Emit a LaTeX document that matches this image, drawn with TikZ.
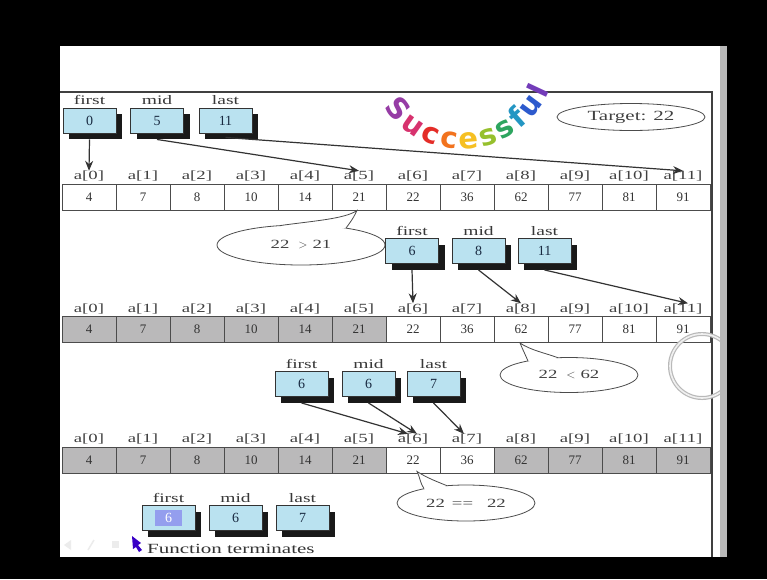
\documentclass[tikz,border=0pt]{standalone}
\usepackage{fontspec}
\setmainfont{Liberation Serif}
\newfontfamily\widefont[FakeStretch=1.5]{Liberation Serif}
\newfontfamily\artfont{DejaVu Sans}
\usetikzlibrary{arrows.meta,shadows,shapes.geometric,positioning,decorations.text}

\definecolor{ptrfill}{RGB}{186,226,240}
\definecolor{ptrink}{RGB}{25,42,65}
\definecolor{cellgray}{RGB}{186,185,186}
\definecolor{pickblue}{RGB}{148,158,238}
\definecolor{waA}{RGB}{150,60,165}
\definecolor{waB}{RGB}{215,50,110}
\definecolor{waC}{RGB}{228,45,40}
\definecolor{waD}{RGB}{242,115,30}
\definecolor{waE}{RGB}{246,192,35}
\definecolor{waF}{RGB}{150,192,45}
\definecolor{waG}{RGB}{45,165,95}
\definecolor{waH}{RGB}{35,150,195}
\definecolor{waI}{RGB}{45,90,205}
\definecolor{waJ}{RGB}{115,60,185}
% colour and face of one letter of the arched word
\newcommand\waface[1]{\color{#1}\artfont\bfseries\fontsize{29}{29}\selectfont}

\begin{document}
\begin{tikzpicture}[x=1pt,y=-1pt,
  cell/.style={draw=black!70, line width=0.9pt, minimum width=54pt, minimum height=26pt,
    inner sep=0pt, font=\fontsize{13}{13}\selectfont, text=black!80},
  idx/.style={inner sep=0pt, font=\widefont\fontsize{12.5}{12.5}\selectfont, text=black!75},
  ptr/.style={draw=black!80, fill=ptrfill, line width=0.9pt, minimum width=53pt,
    minimum height=25pt, inner sep=0pt, font=\fontsize{14}{14}\selectfont, text=ptrink,
    drop shadow={shadow xshift=6pt, shadow yshift=-6pt, fill=black, opacity=0.9}},
  ptrname/.style={inner sep=0pt, font=\widefont\fontsize{13}{13}\selectfont, text=black!78},
  link/.style={draw=black!80, line width=1.2pt, -{Stealth[length=10pt,width=8pt]}},
  bubble/.style={ellipse, draw=black!70, fill=white, line width=0.8pt, inner sep=0pt,
    font=\widefont\fontsize{12.5}{12.5}\selectfont, text=black!75},
  tail/.style={draw=black!70, line width=0.8pt},
]
\useasboundingbox (0,0) rectangle (767,579);
\fill[black] (0,0) rectangle (767,579);
\fill[white] (60,46) rectangle (720,557);

% content frame
\coordinate (fTL) at (60,92);
\coordinate (fTR) at (712,92);
\coordinate (fBR) at (712,557);
\draw[black!75, line width=1.2pt] (fTL) -- (fTR) -- (fBR);

% rainbow word on an arc
\coordinate (wc) at (462,55);
\path[decorate, decoration={text along path, text align={fit to path},
    text={|\waface{waA}|S|\waface{waB}|u|\waface{waC}|c|\waface{waD}|c|\waface{waE}|e%
          |\waface{waF}|s|\waface{waG}|s|\waface{waH}|f|\waface{waI}|u|\waface{waJ}|l}}]
  ([shift={(214:94pt)}]wc) arc[start angle=214, end angle=338, radius=94pt];

\node[bubble, minimum width=148pt, minimum height=27pt, font=\widefont\fontsize{14}{14}\selectfont]
  (target) at (631,117) {Target: 22};

% ---------- pass 1 ----------
\foreach \v [count=\i from 0] in {4,7,8,10,14,21,22,36,62,77,81,91} {
  \node[cell] (r1c\i) at (89+54*\i,197) {\v};
  \node[idx, above=2pt of r1c\i] (r1l\i) {a[\i]};
}
\node[ptr] (b1f) at (89.5,120.5) {0};
\node[ptr] (b1m) at (157,120.5) {5};
\node[ptr] (b1l) at (225.5,120.5) {11};
\node[ptrname, above=2.5pt of b1f] (b1fn) {first};
\node[ptrname, above=2.5pt of b1m] (b1mn) {mid};
\node[ptrname, above=2.5pt of b1l] (b1ln) {last};
\draw[link] ([yshift=-6pt]b1f.south) -- (r1l0.north);
\draw[link] ([yshift=-6pt]b1m.south) -- (r1l5.north);
\draw[link] ([yshift=-4pt]b1l.south) -- (r1l11.north);

\node[bubble, minimum width=168pt, minimum height=40pt] (e1) at (301,245)
  {22\hspace{9pt}$>$\hspace{5pt}21};
\coordinate (t1) at ([xshift=-2pt]r1c5.south);
\coordinate (b1a) at (280,225.6);
\coordinate (b1b) at (346,228);
\coordinate (b1in) at (313,232);
\fill[white] (b1a) .. controls (312,221) and (345,219) .. (t1)
  .. controls (353,219) and (349,224) .. (b1b) -- (b1in) -- cycle;
\draw[tail] (b1a) .. controls (312,221) and (345,219) .. (t1)
  .. controls (353,219) and (349,224) .. (b1b);

% ---------- pass 2 ----------
\foreach \v/\f [count=\i from 0] in {4/cellgray,7/cellgray,8/cellgray,10/cellgray,14/cellgray,
    21/cellgray,22/white,36/white,62/white,77/white,81/white,91/white} {
  \node[cell, fill=\f] (r2c\i) at (89+54*\i,329.5) {\v};
  \node[idx, above=2pt of r2c\i] (r2l\i) {a[\i]};
}
\node[ptr] (b2f) at (412,251) {6};
\node[ptr] (b2m) at (478.5,251) {8};
\node[ptr] (b2l) at (544.5,251) {11};
\node[ptrname, above=2.5pt of b2f] (b2fn) {first};
\node[ptrname, above=2.5pt of b2m] (b2mn) {mid};
\node[ptrname, above=2.5pt of b2l] (b2ln) {last};
\draw[link] ([yshift=-6pt]b2f.south) -- (r2l6.north);
\draw[link] ([yshift=-6pt]b2m.south) -- (r2l8.north);
\draw[link] ([yshift=-6pt]b2l.south) -- ([xshift=5pt]r2l11.north);

\node[bubble, minimum width=138pt, minimum height=35pt] (e2) at (569,375)
  {22\hspace{9pt}$<$\hspace{5pt}62};
\coordinate (t2) at ([xshift=-1pt]r2c8.south);
\coordinate (b2a) at (528,361);
\coordinate (b2b) at (558,357.7);
\coordinate (b2in) at (543,364);
\fill[white] (b2a) .. controls (525,354) and (522,348) .. (t2)
  .. controls (530,350) and (545,353) .. (b2b) -- (b2in) -- cycle;
\draw[tail] (b2a) .. controls (525,354) and (522,348) .. (t2)
  .. controls (530,350) and (545,353) .. (b2b);

% ---------- pass 3 ----------
\foreach \v/\f [count=\i from 0] in {4/cellgray,7/cellgray,8/cellgray,10/cellgray,14/cellgray,
    21/cellgray,22/white,36/white,62/cellgray,77/cellgray,81/cellgray,91/cellgray} {
  \node[cell, fill=\f] (r3c\i) at (89+54*\i,460) {\v};
  \node[idx, above=2pt of r3c\i] (r3l\i) {a[\i]};
}
\node[ptr] (b3f) at (301.5,384) {6};
\node[ptr] (b3m) at (368.5,384) {6};
\node[ptr] (b3l) at (433.5,384) {7};
\node[ptrname, above=2.5pt of b3f] (b3fn) {first};
\node[ptrname, above=2.5pt of b3m] (b3mn) {mid};
\node[ptrname, above=2.5pt of b3l] (b3ln) {last};
\draw[link] ([yshift=-6pt]b3f.south) -- ([xshift=-5pt]r3l6.north);
\draw[link] ([yshift=-6pt]b3m.south) -- ([xshift=4pt]r3l6.north);
\draw[link] ([yshift=-6pt]b3l.south) -- ([xshift=-3pt]r3l7.north);

\node[bubble, minimum width=138pt, minimum height=36pt] (e3) at (466,503)
  {22\hspace{7pt}==\hspace{14pt}22};
\coordinate (t3) at ([shift={(4pt,2pt)}]r3c6.south);
\coordinate (b3a) at (424,488.7);
\coordinate (b3b) at (447,485.7);
\coordinate (b3in) at (436,491);
\fill[white] (b3a) .. controls (420,483) and (420,477) .. (t3)
  .. controls (427,478) and (438,482) .. (b3b) -- (b3in) -- cycle;
\draw[tail] (b3a) .. controls (420,483) and (420,477) .. (t3)
  .. controls (427,478) and (438,482) .. (b3b);

% ---------- final state ----------
\node[ptr] (b4f) at (168.5,518) {};
\node[fill=pickblue, minimum width=27pt, minimum height=16pt, inner sep=0pt, text=white,
  font=\fontsize{14}{14}\selectfont] (b4fv) at (b4f.center) {6};
\node[ptr] (b4m) at (235.5,518) {6};
\node[ptr] (b4l) at (302.5,518) {7};
\node[ptrname, above=2.5pt of b4f] (b4fn) {first};
\node[ptrname, above=2.5pt of b4m] (b4mn) {mid};
\node[ptrname, above=2.5pt of b4l] (b4ln) {last};

\node[anchor=base west, inner sep=0pt, font=\widefont\fontsize{14}{14}\selectfont, text=black!80]
  (done) at (147,553) {Function terminates};

% faint slide-show controls
\fill[gray!15] (64,545) -- (71,540) -- (71,550) -- cycle;
\draw[gray!15, line width=1.5pt] (88,550) -- (94,540);
\fill[gray!15] (112,541) rectangle (119,548);
\fill[blue!55!violet] (132,536) -- (141,543) -- (138,545) -- (142,550) -- (139,552)
  -- (136,547) -- (133,549) -- cycle;

% pointer ring
\draw[gray!55, line width=4pt] (702,366) circle[radius=32pt];
\draw[gray!12, line width=1.6pt] (702,366) circle[radius=32pt];

% right edge of the screen
\fill[gray!55] (720,46) rectangle (727,557);
\fill[black] (727,0) rectangle (767,579);
\end{tikzpicture}
\end{document}
